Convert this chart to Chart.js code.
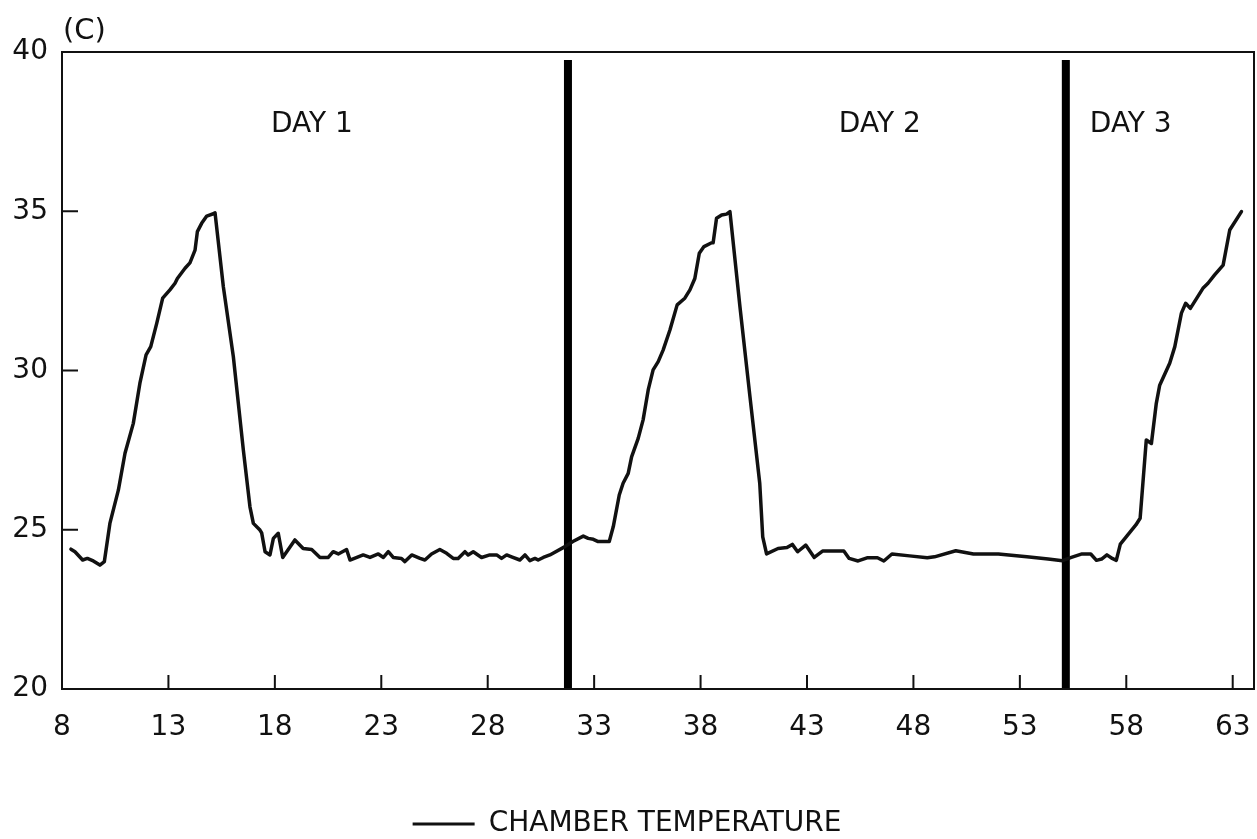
<!DOCTYPE html>
<html>
<head>
<meta charset="utf-8">
<style>
  html, body { margin: 0; padding: 0; background: #ffffff; }
  #wrap { width: 1257px; height: 839px; }
  canvas { display: block; }
</style>
<script src="https://cdn.jsdelivr.net/npm/chart.js@4.4.1/dist/chart.umd.min.js"></script>
</head>
<body>
<div id="wrap"><canvas id="c" width="1257" height="839"></canvas></div>
<script>
// ---- data ----
const hours = [
  8.42, 8.61, 8.97, 9.19, 9.47, 9.78, 9.99, 10.25, 10.65, 10.96,
  11.35, 11.66, 11.95, 12.17, 12.45, 12.73, 13.07, 13.31, 13.42, 13.78,
  14.01, 14.25, 14.36, 14.56, 14.80, 15.14, 15.19, 15.58, 16.05, 16.52,
  16.83, 16.99, 17.30, 17.38, 17.54, 17.77, 17.93, 18.16, 18.37, 18.94,
  19.33, 19.73, 20.12, 20.51, 20.74, 20.98, 21.37, 21.53, 22.15, 22.47,
  22.86, 23.10, 23.33, 23.56, 23.95, 24.11, 24.43, 24.82, 25.05, 25.36,
  25.75, 26.07, 26.38, 26.61, 26.93, 27.08, 27.32, 27.71, 28.10, 28.42,
  28.65, 28.89, 29.12, 29.51, 29.75, 29.98, 30.22, 30.37, 30.61, 30.92,
  31.63, 32.00, 32.49, 32.72, 32.96, 33.19, 33.71, 33.90, 34.18, 34.36,
  34.60, 34.76, 35.07, 35.30, 35.54, 35.77, 36.01, 36.24, 36.56, 36.90,
  37.26, 37.50, 37.73, 37.94, 38.16, 38.52, 38.59, 38.75, 38.99, 39.22,
  39.38, 39.85, 40.32, 40.78, 40.92, 41.10, 41.64, 42.06, 42.31, 42.56,
  42.94, 43.34, 43.73, 44.73, 44.98, 45.40, 45.82, 46.31, 46.61, 46.99,
  47.82, 48.65, 48.99, 49.99, 50.82, 51.99, 53.33, 54.33, 55.00, 55.42,
  55.92, 56.33, 56.60, 56.84, 57.09, 57.34, 57.53, 57.72, 58.45, 58.65,
  58.94, 59.18, 59.41, 59.57, 60.04, 60.28, 60.59, 60.79, 61.01, 61.60,
  61.84, 62.15, 62.55, 62.86, 63.41
];
const chamberTemp = [
  24.39, 24.31, 24.05, 24.10, 24.02, 23.89, 24.00, 25.20, 26.25, 27.40,
  28.34, 29.60, 30.49, 30.75, 31.48, 32.27, 32.53, 32.74, 32.89, 33.21,
  33.38, 33.78, 34.36, 34.62, 34.85, 34.93, 34.95, 32.63, 30.43, 27.50,
  25.72, 25.20, 24.99, 24.90, 24.31, 24.21, 24.73, 24.89, 24.13, 24.68,
  24.41, 24.38, 24.13, 24.13, 24.31, 24.24, 24.38, 24.05, 24.21, 24.13,
  24.24, 24.13, 24.31, 24.13, 24.10, 24.00, 24.21, 24.10, 24.05, 24.24,
  24.38, 24.26, 24.10, 24.10, 24.31, 24.21, 24.31, 24.13, 24.21, 24.21,
  24.10, 24.21, 24.15, 24.05, 24.21, 24.03, 24.10, 24.05, 24.13, 24.21,
  24.47, 24.63, 24.80, 24.73, 24.70, 24.63, 24.63, 25.10, 26.09, 26.46,
  26.77, 27.29, 27.87, 28.45, 29.39, 30.02, 30.28, 30.64, 31.27, 32.06,
  32.27, 32.53, 32.89, 33.68, 33.89, 34.01, 34.01, 34.78, 34.88, 34.91,
  34.99, 32.00, 29.18, 26.46, 24.78, 24.24, 24.41, 24.44, 24.54, 24.31,
  24.52, 24.13, 24.33, 24.33, 24.10, 24.02, 24.12, 24.12, 24.02, 24.24,
  24.18, 24.12, 24.15, 24.34, 24.24, 24.24, 24.15, 24.08, 24.03, 24.13,
  24.24, 24.24, 24.04, 24.08, 24.21, 24.10, 24.04, 24.55, 25.15, 25.36,
  27.82, 27.71, 28.97, 29.54, 30.23, 30.75, 31.80, 32.11, 31.95, 32.58,
  32.74, 33.00, 33.31, 34.41, 34.99
];
const xTickValues = [8, 13, 18, 23, 28, 33, 38, 43, 48, 53, 58, 63];
const yTickValues = [20, 25, 30, 35, 40];
const dayBoundaryHours = [31.77, 55.16];
const dayBoundaryTemps = [20, 39.75];
const dayLabels = ['DAY 1', 'DAY 2', 'DAY 3'];
const dayLabelHours = [19.74, 46.42, 58.21];
const dayLabelTemp = 37.5;
const panelLabel = '(C)';
const seriesLabel = 'CHAMBER TEMPERATURE';

// ---- chart ----
const FONT = 'DejaVu Sans';
const INK = '#111111';

const datasets = [{
  label: seriesLabel,
  data: hours.map((h, i) => ({ x: h, y: chamberTemp[i] })),
  borderColor: INK,
  backgroundColor: INK,
  borderWidth: 3.5,
  pointRadius: 0,
  tension: 0,
  borderJoinStyle: 'round',
  borderCapStyle: 'round'
}];
dayBoundaryHours.forEach((h, i) => {
  datasets.push({
    label: 'boundary ' + (i + 1),
    data: dayBoundaryTemps.map(t => ({ x: h, y: t })),
    borderColor: '#000000',
    borderWidth: 8,
    pointRadius: 0,
    borderCapStyle: 'butt'
  });
});

const framePlugin = {
  id: 'frame',
  afterDatasetsDraw(chart) {
    const { ctx, chartArea: a, scales } = chart;
    ctx.save();
    ctx.strokeStyle = INK;
    ctx.lineWidth = 2;
    ctx.strokeRect(a.left, a.top, a.right - a.left, a.bottom - a.top);
    ctx.beginPath();
    scales.x.ticks.forEach(t => {
      const px = scales.x.getPixelForValue(t.value);
      ctx.moveTo(px, a.bottom);
      ctx.lineTo(px, a.bottom - 14);
    });
    scales.y.ticks.forEach(t => {
      const py = scales.y.getPixelForValue(t.value);
      ctx.moveTo(a.left, py);
      ctx.lineTo(a.left + 16, py);
    });
    ctx.stroke();
    // day labels
    ctx.fillStyle = INK;
    ctx.font = '28px "' + FONT + '"';
    ctx.textAlign = 'center';
    ctx.textBaseline = 'alphabetic';
    dayLabels.forEach((lab, i) => {
      ctx.fillText(lab, scales.x.getPixelForValue(dayLabelHours[i]), scales.y.getPixelForValue(dayLabelTemp));
    });
    // panel label
    ctx.font = '29px "' + FONT + '"';
    ctx.textAlign = 'left';
    ctx.fillText(panelLabel, a.left + 1, 39);
    ctx.restore();
  }
};

new Chart(document.getElementById('c'), {
  type: 'line',
  data: { datasets },
  options: {
    responsive: false,
    animation: false,
    devicePixelRatio: 1,
    layout: { padding: { left: 0, right: 3, top: 52, bottom: -9 } },
    plugins: {
      tooltip: { enabled: false },
      legend: {
        display: true,
        position: 'bottom',
        labels: {
          font: { family: FONT, size: 28 },
          color: INK,
          boxWidth: 62,
          boxHeight: 3,
          padding: 6,
          generateLabels: () => [{
            text: seriesLabel, fillStyle: INK, strokeStyle: INK, lineWidth: 0,
            hidden: false, datasetIndex: 0, fontColor: INK
          }]
        }
      }
    },
    scales: {
      x: {
        type: 'linear',
        min: 8, max: 64,
        afterBuildTicks: s => { s.ticks = xTickValues.map(v => ({ value: v })); },
        afterFit: s => { s.height = 115; s.paddingLeft = 0; s.paddingRight = 0; },
        grid: { display: false },
        border: { display: false },
        ticks: {
          autoSkip: false, maxRotation: 0, padding: 14,
          color: INK, font: { family: FONT, size: 28 }
        }
      },
      y: {
        type: 'linear',
        min: 20, max: 40,
        afterBuildTicks: s => { s.ticks = yTickValues.map(v => ({ value: v })); },
        afterFit: s => { s.width = 62; s.paddingTop = 0; s.paddingBottom = 0; },
        grid: { display: false },
        border: { display: false },
        ticks: {
          padding: 6,
          color: INK, font: { family: FONT, size: 28 }
        }
      }
    }
  },
  plugins: [framePlugin]
});
</script>
</body>
</html>
